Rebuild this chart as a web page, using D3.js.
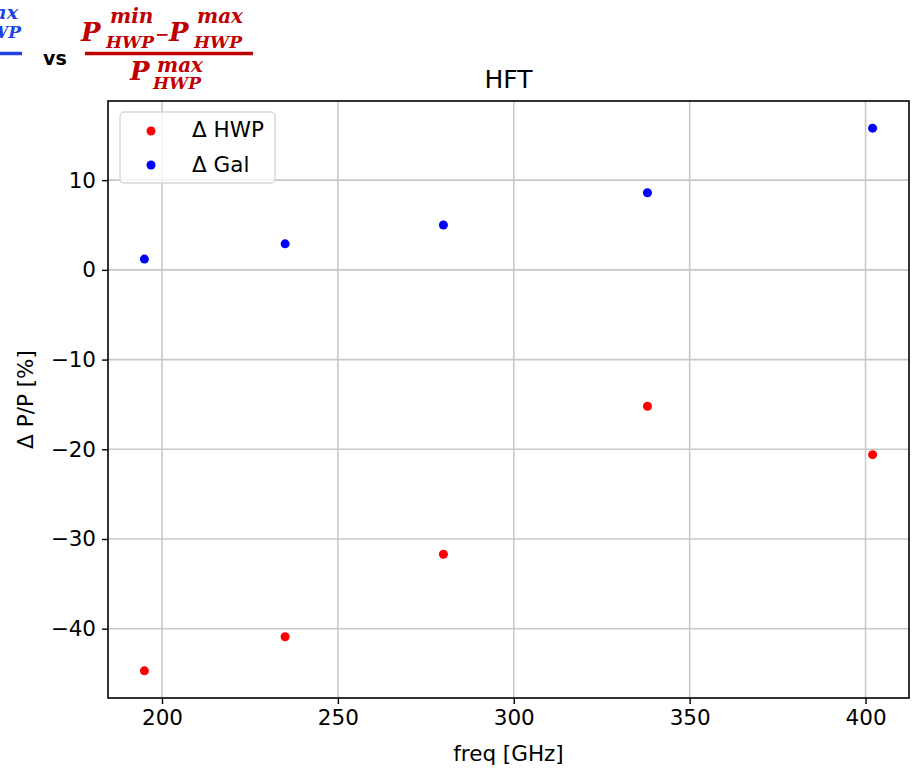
<!DOCTYPE html>
<html>
<head>
<meta charset="utf-8">
<script src="https://cdn.jsdelivr.net/npm/d3@7"></script>
<style>
  body { margin: 0; background: #fff; }
  svg { display: block; }
</style>
</head>
<body>
<div id="chart"></div>
<script>
// freq [GHz] and relative differences in %
var freqs = [195, 235, 280, 338, 402];
var hwp = [-44.7, -40.9, -31.7, -15.2, -20.6];
var gal = [1.2, 2.9, 5.0, 8.6, 15.8];
var xTicks = [200, 250, 300, 350, 400];
var yTicks = [-40, -30, -20, -10, 0, 10];

var W = 916, H = 769;
var margin = {top: 101, right: 7, bottom: 71, left: 108},
    width = W - margin.left - margin.right,
    height = H - margin.top - margin.bottom;

var svg = d3.select("#chart")
    .append("svg")
    .attr("width", W)
    .attr("height", H);

var g = svg.append("g")
    .attr("transform", "translate(" + margin.left + "," + margin.top + ")");

// matplotlib style 5% margins
var xPad = (d3.max(freqs) - d3.min(freqs)) * 0.05;
var allY = hwp.concat(gal);
var yPad = (d3.max(allY) - d3.min(allY)) * 0.05;

var x = d3.scaleLinear()
    .domain([d3.min(freqs) - xPad, d3.max(freqs) + xPad])
    .range([0, width]);
var y = d3.scaleLinear()
    .domain([d3.min(allY) - yPad, d3.max(allY) + yPad])
    .range([height, 0]);

var font = "'DejaVu Sans', sans-serif";
var fs = "21.5px";

// grid
g.append("g")
    .selectAll("line")
    .data(xTicks)
    .enter().append("line")
    .attr("x1", function(d) { return x(d); })
    .attr("x2", function(d) { return x(d); })
    .attr("y1", 0).attr("y2", height)
    .attr("stroke", "#c8c8c8").attr("stroke-width", 1.6);
g.append("g")
    .selectAll("line")
    .data(yTicks)
    .enter().append("line")
    .attr("y1", function(d) { return y(d); })
    .attr("y2", function(d) { return y(d); })
    .attr("x1", 0).attr("x2", width)
    .attr("stroke", "#c8c8c8").attr("stroke-width", 1.6);

// axes
var xAxis = g.append("g")
    .attr("transform", "translate(0," + height + ")")
    .call(d3.axisBottom(x).tickValues(xTicks).tickSize(6).tickPadding(6).tickFormat(d3.format("d")));
var yAxis = g.append("g")
    .call(d3.axisLeft(y).tickValues(yTicks).tickSize(6).tickPadding(6)
        .tickFormat(function(d) { return d < 0 ? "\u2212" + Math.abs(d) : d; }));

[xAxis, yAxis].forEach(function(a) {
    a.select(".domain").remove();
    a.selectAll(".tick line").attr("stroke", "#000").attr("stroke-width", 1.4);
    a.selectAll(".tick text").attr("fill", "#000")
        .style("font-family", font).style("font-size", fs);
});

// frame
g.append("rect")
    .attr("width", width).attr("height", height)
    .attr("fill", "none").attr("stroke", "#000").attr("stroke-width", 1.6);

// points
g.append("g").selectAll("circle")
    .data(freqs)
    .enter().append("circle")
    .attr("cx", function(d) { return x(d); })
    .attr("cy", function(d, i) { return y(hwp[i]); })
    .attr("r", 4.5)
    .style("fill", "#ff0000");
g.append("g").selectAll("circle")
    .data(freqs)
    .enter().append("circle")
    .attr("cx", function(d) { return x(d); })
    .attr("cy", function(d, i) { return y(gal[i]); })
    .attr("r", 4.5)
    .style("fill", "#0000ff");

// labels
svg.append("text")
    .attr("x", margin.left + width / 2)
    .attr("y", 761)
    .attr("text-anchor", "middle")
    .style("font-family", font).style("font-size", fs)
    .text("freq [GHz]");
svg.append("text")
    .attr("transform", "translate(33," + (margin.top + height / 2) + ") rotate(-90)")
    .attr("text-anchor", "middle")
    .style("font-family", font).style("font-size", fs)
    .text("\u0394 P/P [%]");
svg.append("text")
    .attr("x", margin.left + width / 2)
    .attr("y", 88)
    .attr("text-anchor", "middle")
    .style("font-family", font).style("font-size", "25px")
    .text("HFT");

// legend
var leg = g.append("g").attr("transform", "translate(12,11)");
leg.append("rect")
    .attr("width", 155).attr("height", 71).attr("rx", 4)
    .attr("fill", "#fff").attr("fill-opacity", 0.8)
    .attr("stroke", "#d8d8d8").attr("stroke-width", 1.4);
var legItems = [{name: "\u0394 HWP", color: "#ff0000"}, {name: "\u0394 Gal", color: "#0000ff"}];
legItems.forEach(function(it, i) {
    leg.append("circle").attr("cx", 31).attr("cy", 19 + i * 34).attr("r", 4.5).style("fill", it.color);
    leg.append("text").attr("x", 72).attr("y", 25 + i * 35)
        .style("font-family", font).style("font-size", fs)
        .text(it.name);
});

// formula header (partly cut at the left edge)
var mfont = "'DejaVu Serif', serif";
var blue = "#2040e8", red = "#c00000";

function mtext(xs, yb, size, str, color) {
    return svg.append("text").attr("x", xs).attr("y", yb)
        .style("font-family", mfont).style("font-style", "italic")
        .style("font-weight", "bold").style("font-size", size + "px")
        .attr("fill", color).text(str);
}

// blue piece, mostly outside the left edge
mtext(18, 19, 19, "max", blue).attr("text-anchor", "end");
mtext(21, 38, 17, "HWP", blue).attr("text-anchor", "end");
svg.append("line").attr("x1", 0).attr("x2", 22).attr("y1", 53.5).attr("y2", 53.5)
    .attr("stroke", blue).attr("stroke-width", 3.5);

svg.append("text").attr("x", 43).attr("y", 65)
    .style("font-family", "'DejaVu Sans', sans-serif").style("font-weight", "bold").style("font-size", "19px")
    .text("vs");

// numerator: P^min_HWP - P^max_HWP
mtext(81, 41, 26, "P", red);
mtext(110, 23, 20, "min", red);
mtext(106, 48, 17, "HWP", red);
svg.append("text").attr("x", 155).attr("y", 40)
    .style("font-family", mfont).style("font-weight", "bold").style("font-size", "17px")
    .attr("fill", red).text("\u2212");
mtext(169, 41, 26, "P", red);
mtext(197, 23, 20, "max", red);
mtext(194, 48, 17, "HWP", red);
svg.append("line").attr("x1", 85).attr("x2", 253).attr("y1", 53.5).attr("y2", 53.5)
    .attr("stroke", red).attr("stroke-width", 3.5);
// denominator: P^max_HWP
mtext(130, 80, 26, "P", red);
mtext(157, 72, 20, "max", red);
mtext(153, 89, 17, "HWP", red);
</script>
</body>
</html>
